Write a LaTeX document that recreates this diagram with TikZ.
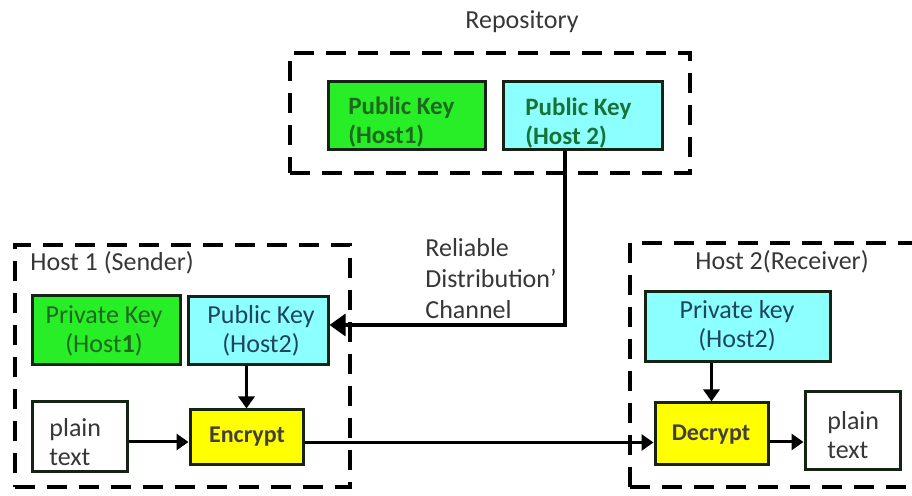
\documentclass[tikz,border=0pt]{standalone}
\usepackage{fontspec}
\setmainfont{Carlito}
\usetikzlibrary{arrows.meta}
\definecolor{kgreen}{RGB}{40,238,40}
\definecolor{kcyan}{RGB}{140,255,255}
\definecolor{kyellow}{RGB}{255,255,0}
\definecolor{tgreen}{RGB}{30,105,30}
\definecolor{tgreen2}{RGB}{25,115,55}
\definecolor{tteal}{RGB}{30,70,90}
\definecolor{tgray}{RGB}{55,55,55}
\definecolor{bord}{RGB}{20,35,20}
\begin{document}
\begin{tikzpicture}[x=0.5pt,y=-0.5pt,
  every node/.style={font=\fontsize{13}{14.5}\selectfont, inner sep=0pt},
  dbox/.style={draw=black, line width=2pt, dash pattern=on 10pt off 6pt},
  kbox/.style={draw=bord, line width=1.5pt},
  lbl/.style={text=tgray},
  arr/.style={line width=1.5pt, -{Triangle[length=6pt,width=8pt]}},
  bigarr/.style={line width=1.6pt, -{Triangle[length=8pt,width=11pt]}}]
\useasboundingbox (0,0) rectangle (912,496);
% dashed group boxes
\node[dbox, minimum width=200pt, minimum height=60pt] (repo) at (490,113) {};
\node[dbox, minimum width=167.5pt, minimum height=121pt] (h1) at (182.5,366) {};
\node[dbox, minimum width=155pt, minimum height=122pt] (h2) at (785,365) {};
% labels
\node[lbl] (repolbl) at (522,22) {Repository};
\node[lbl, anchor=west] (h1lbl) at (30,263) {Host 1 (Sender)};
\node[lbl] (h2lbl) at (782,262) {Host 2(Receiver)};
\node[lbl, anchor=west, align=left, font=\fontsize{13}{15.5}\selectfont] (chan) at (425,279) {Reliable\\Distribution'\\Channel};
% repository keys
\node[kbox, fill=kgreen, minimum width=78.5pt, minimum height=34pt] (rpk1) at (406.5,116) {};
\node[kbox, fill=kcyan, minimum width=79.5pt, minimum height=34pt] (rpk2) at (582.5,116) {};
\node[anchor=west, align=left, text=tgreen, font=\bfseries\fontsize{12.5}{14.5}\selectfont] (rpk1t) at (348,122.5) {Public Key\\(Host1)};
\node[anchor=west, align=left, text=tgreen2, font=\bfseries\fontsize{12.5}{14.5}\selectfont] (rpk2t) at (525,123) {Public Key\\(Host 2)};
% host 1
\node[kbox, fill=kgreen, minimum width=74pt, minimum height=34.5pt] (priv1) at (106,330.5) {};
\node[align=center, text=tgreen] (priv1t) at (104,331) {Private Key\\(Host\textbf{1})};
\node[kbox, fill=kcyan, minimum width=70pt, minimum height=34pt] (hpub) at (258,331) {};
\node[align=center, text=tteal] (hpubt) at (261,331) {Public Key\\(Host2)};
\node[kbox, fill=kyellow, minimum width=56.5pt, minimum height=27.5pt] (enc) at (246.5,437.5) {};
\node[text=black!85!yellow, font=\bfseries\fontsize{12}{14}\selectfont] (enct) at (247,437) {Encrypt};
\node[kbox, fill=white, minimum width=47.5pt, minimum height=35pt] (ptx1) at (79.5,437) {};
\node[anchor=west, align=left, lbl] (ptx1t) at (49,442) {plain\\text};
% host 2
\node[kbox, fill=kcyan, minimum width=92.5pt, minimum height=35pt] (priv2) at (737.5,327) {};
\node[align=center, text=tteal] (priv2t) at (737,326) {Private key\\(Host2)};
\node[kbox, fill=kyellow, minimum width=56.5pt, minimum height=31pt] (dec) at (711.5,434) {};
\node[text=black!85!yellow, font=\bfseries\fontsize{12}{14}\selectfont] (dect) at (711,435) {Decrypt};
\node[kbox, fill=white, minimum width=47.5pt, minimum height=39pt] (ptx2) at (852.5,431) {};
\node[anchor=west, align=left, lbl] (ptx2t) at (827,435) {plain\\text};
% connectors
\draw[bigarr] ([xshift=-8.75pt]rpk2.south) |- ([yshift=3pt]hpub.east);
\draw[arr] (hpub.south -| enc.north) -- (enc.north);
\draw[arr] ([yshift=-2.5pt]ptx1.east) -- ([yshift=-2.5pt]ptx1.east -| enc.west);
\draw[arr] ([yshift=-2.5pt]enc.east) -- ([yshift=-2.5pt]enc.east -| dec.west);
\draw[arr] (priv2.south -| dec.north) -- (dec.north);
\draw[arr] ([yshift=-4pt]dec.east) -- ([yshift=-4pt]dec.east -| ptx2.west);
\end{tikzpicture}
\end{document}
